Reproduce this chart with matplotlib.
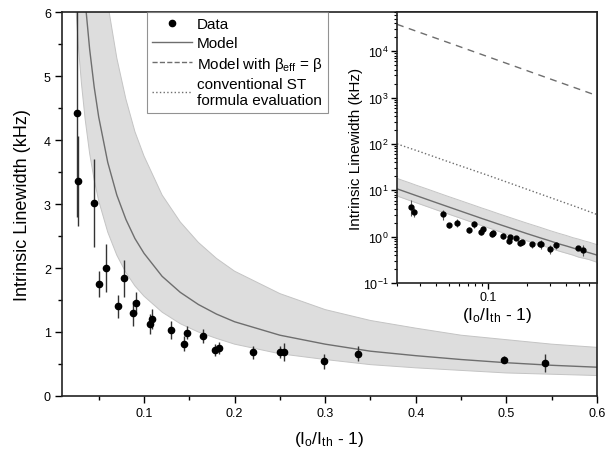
import matplotlib
matplotlib.use('Agg')
import matplotlib.pyplot as plt
from matplotlib.ticker import MultipleLocator, LogLocator, NullFormatter

plt.rcParams['font.family'] = ['Liberation Sans', 'DejaVu Sans']
plt.rcParams['mathtext.fontset'] = 'custom'
plt.rcParams['mathtext.rm'] = 'Liberation Sans'
plt.rcParams['mathtext.it'] = 'Liberation Sans'

# ==============================================================================
# Datos
# ==============================================================================
data_x = [0.0257, 0.0268, 0.0449, 0.0503, 0.058, 0.071, 0.078, 0.088, 0.091, 0.107, 0.109, 0.130,
          0.1445, 0.148, 0.1655, 0.178, 0.183, 0.220, 0.250, 0.255, 0.299, 0.336, 0.497, 0.543]
data_y = [4.42, 3.36, 3.02, 1.75, 2.00, 1.40, 1.84, 1.29, 1.45, 1.125, 1.20, 1.03,
          0.82, 0.99, 0.94, 0.72, 0.75, 0.68, 0.69, 0.69, 0.54, 0.66, 0.57, 0.52]
data_err = [1.62, 0.71, 0.69, 0.20, 0.37, 0.18, 0.29, 0.19, 0.17, 0.16, 0.16, 0.14,
            0.11, 0.10, 0.11, 0.09, 0.10, 0.10, 0.09, 0.14, 0.12, 0.12, 0.06, 0.14]

# curva del modelo y banda de incertidumbre
model_x = [0.020, 0.022, 0.025, 0.028, 0.031, 0.035, 0.040, 0.045, 0.050, 0.060, 0.070, 0.080, 0.090, 0.100,
           0.120, 0.140, 0.160, 0.180, 0.200, 0.250, 0.300, 0.350, 0.400, 0.450, 0.500, 0.550, 0.600, 0.690]
model_y = [10.75, 9.78, 8.62, 7.70, 6.97, 6.18, 5.42, 4.83, 4.36, 3.65, 3.14, 2.76, 2.46, 2.23,
           1.87, 1.62, 1.43, 1.28, 1.16, 0.95, 0.81, 0.70, 0.63, 0.57, 0.52, 0.48, 0.45, 0.40]
band_lo = [7.53, 6.85, 6.03, 5.39, 4.88, 4.33, 3.79, 3.38, 3.05, 2.56, 2.20, 1.93, 1.72, 1.56,
           1.31, 1.13, 1.00, 0.90, 0.81, 0.66, 0.57, 0.49, 0.44, 0.40, 0.36, 0.34, 0.32, 0.28]
band_hi = [18.1, 16.4, 14.5, 12.9, 11.7, 10.4, 9.1, 8.1, 7.3, 6.13, 5.28, 4.64, 4.13, 3.75,
           3.14, 2.72, 2.40, 2.15, 1.95, 1.60, 1.35, 1.18, 1.06, 0.95, 0.88, 0.81, 0.76, 0.67]

# modelo con beta_eff = beta, y formula ST convencional (solo en el recuadro)
beta_x = [0.020, 0.030, 0.050, 0.100, 0.200, 0.300, 0.500, 0.690]
beta_y = [38000, 25300, 15200, 7600, 3800, 2530, 1520, 1100]
st_x = [0.020, 0.030, 0.050, 0.100, 0.200, 0.300, 0.500, 0.690]
st_y = [100, 68, 41, 21, 10.5, 7.0, 4.2, 3.0]

band_color = '#dddddd'
band_edge = '#c4c4c4'
line_color = '#6e6e6e'

fig = plt.figure(figsize=(6.07, 4.56), dpi=100)
ax = fig.add_axes([62/607, 1-397/456, 535/607, 384/456])

ax.fill_between(model_x, band_lo, band_hi, color=band_color, lw=0)
ax.plot(model_x, band_lo, color=band_edge, lw=0.7)
ax.plot(model_x, band_hi, color=band_edge, lw=0.7)
ax.plot(model_x, model_y, color=line_color, lw=1.0)
ax.errorbar(data_x, data_y, yerr=data_err, fmt='o', color='black', ms=4.5,
            ecolor='#333333', elinewidth=1.0, capsize=0)

ax.set_xlim(0.0095, 0.6)
ax.set_ylim(0, 6)
ax.xaxis.set_major_locator(MultipleLocator(0.1))
ax.xaxis.set_minor_locator(MultipleLocator(0.05))
ax.yaxis.set_major_locator(MultipleLocator(1))
ax.yaxis.set_minor_locator(MultipleLocator(0.5))
ax.set_xticks([0.1, 0.2, 0.3, 0.4, 0.5, 0.6])
ax.set_xticklabels(['0.1', '0.2', '0.3', '0.4', '0.5', '0.6'])
ax.tick_params(which='major', direction='out', length=5, width=1, labelsize=9, pad=3)
ax.tick_params(which='minor', direction='out', length=3, width=1)
for s in ax.spines.values():
    s.set_linewidth(1.2)
    s.set_color('#222222')
ax.set_xlabel(r'(I$_\mathrm{o}$/I$_\mathrm{th}$ - 1)', fontsize=12.5, labelpad=7)
ax.set_ylabel('Intrinsic Linewidth (kHz)', fontsize=13, labelpad=9)

# leyenda
h_data = ax.plot([], [], 'o', color='black', ms=4.5, label='Data')[0]
h_model = ax.plot([], [], '-', color=line_color, lw=1.0, label='Model')[0]
h_beta = ax.plot([], [], '--', color=line_color, lw=1.0, label=r'Model with $\beta_\mathrm{eff}$ = $\beta$')[0]
h_st = ax.plot([], [], ':', color=line_color, lw=1.0, label='conventional ST\nformula evaluation')[0]
leg = ax.legend(handles=[h_data, h_model, h_beta, h_st], loc='upper left',
                bbox_to_anchor=(147/607, 1-13/456), bbox_transform=fig.transFigure,
                fontsize=11, frameon=True, fancybox=False, edgecolor='#777777',
                handlelength=2.6, handletextpad=0.3, borderpad=0.35, labelspacing=0.3,
                borderaxespad=0)
leg.get_frame().set_linewidth(0.8)

# recuadro log-log
axi = fig.add_axes([397/607, 1-284/456, 200/607, 271/456])
axi.fill_between(model_x, band_lo, band_hi, color=band_color, lw=0)
axi.plot(model_x, band_lo, color=band_edge, lw=0.7)
axi.plot(model_x, band_hi, color=band_edge, lw=0.7)
axi.plot(model_x, model_y, color=line_color, lw=1.0)
axi.plot(beta_x, beta_y, '--', color=line_color, lw=1.0, dashes=(5, 4))
axi.plot(st_x, st_y, ':', color=line_color, lw=1.0)
axi.errorbar(data_x, data_y, yerr=data_err, fmt='o', color='black', ms=3.5,
             ecolor='#555555', elinewidth=0.8, capsize=0)
axi.set_xscale('log')
axi.set_yscale('log')
axi.set_xlim(0.02, 0.69)
axi.set_ylim(0.1, 7e4)
axi.set_xticks([0.1])
axi.set_xticklabels(['0.1'])
axi.xaxis.set_minor_locator(LogLocator(base=10, subs=range(2, 10), numticks=10))
axi.xaxis.set_minor_formatter(NullFormatter())
axi.yaxis.set_major_locator(LogLocator(base=10, numticks=10))
axi.yaxis.set_minor_locator(LogLocator(base=10, subs=range(2, 10), numticks=10))
axi.yaxis.set_minor_formatter(NullFormatter())
axi.tick_params(which='major', direction='out', length=4, width=1, labelsize=9, pad=2)
axi.tick_params(which='minor', direction='out', length=2, width=0.8)
for s in axi.spines.values():
    s.set_linewidth(1.2)
    s.set_color('#222222')
axi.set_xlabel(r'(I$_\mathrm{o}$/I$_\mathrm{th}$ - 1)', fontsize=12.5, labelpad=1)
axi.set_ylabel('Intrinsic Linewidth (kHz)', fontsize=11, labelpad=0)

fig.savefig('out.png', dpi=100)
